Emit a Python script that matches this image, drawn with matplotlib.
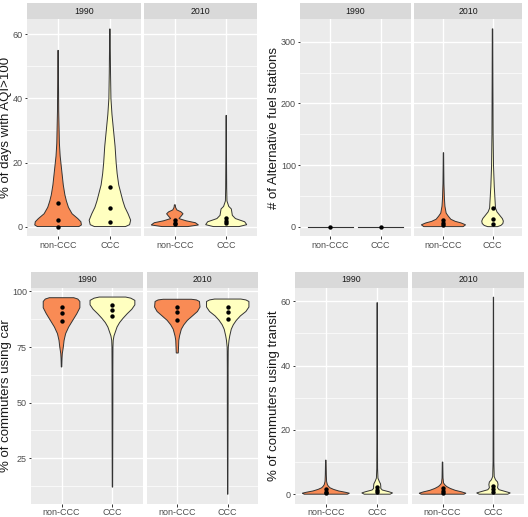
import matplotlib
matplotlib.use("Agg")
import matplotlib.pyplot as plt
import numpy as np

plt.rcParams['font.family'] = ['Liberation Sans', 'DejaVu Sans']

groups = ["non-CCC", "CCC"]
years = ["1990", "2010"]
fill_colors = ["#F98B55", "#FFFFC0"]

# violin outlines: (value, half width in category units)
aqi_90_non = [(0, .40), (.5, .45), (1.5, .44), (2.5, .38), (4, .27), (6, .20), (8, .16), (10, .13),
              (13, .10), (16, .08), (19, .06), (22, .04), (26, .025), (30, .02), (36, .012), (45, .008), (55, .005)]
aqi_90_ccc = [(0, .30), (.6, .38), (2, .40), (4, .35), (6, .29), (8, .25), (10.5, .21), (13, .17), (16.5, .14),
              (20, .12), (25, .10), (30, .07), (35, .04), (40, .02), (48, .012), (55, .008), (61.7, .004)]
aqi_10_non = [(0, .25), (.5, .46), (1.2, .40), (1.8, .22), (2.5, .08), (3.2, .12), (4, .16), (4.6, .12),
              (5.2, .04), (6, .015), (6.8, .008)]
aqi_10_ccc = [(0, .25), (.6, .40), (1.5, .36), (2.5, .18), (3.5, .12), (4.5, .11), (5.5, .10), (6.3, .05),
              (8, .015), (12, .01), (20, .007), (28, .005), (34.7, .004)]
aqi_q = [[0, 2.0, 7.3], [1.5, 5.7, 12.3], [0.7, 1.2, 2.0], [1.0, 1.8, 2.8]]

fuel_90_non = [(0, .45)]
fuel_90_ccc = [(0, .45)]
fuel_10_non = [(0, .40), (3, .45), (6, .36), (8.6, .24), (12, .15), (16.8, .10), (22, .055), (33, .03),
               (45, .02), (70, .01), (100, .006), (120, .004)]
fuel_10_ccc = [(0, .10), (2, .17), (5, .21), (9, .22), (13, .20), (18, .15), (24, .09), (30, .06),
               (44, .05), (65, .035), (98, .02), (150, .012), (240, .008), (321, .005)]
fuel_q = [[0], [0], [3, 6, 10], [4.5, 12, 31]]

car_90_non = [(66, .005), (70, .01), (72, .015), (75, .035), (78, .05), (81, .08), (84, .14), (87, .22),
              (90, .30), (92.7, .36), (95.5, .36), (96.6, .32), (97.2, .24)]
car_90_ccc = [(11.9, .004), (30, .006), (50, .008), (65, .008), (75, .01), (78, .015), (80, .03), (82, .06),
              (84, .09), (86, .14), (88, .21), (90, .29), (92, .38), (94, .44), (96, .44), (97, .36), (97.5, .26)]
car_10_non = [(72.3, .02), (75, .025), (78, .03), (80, .045), (83, .08), (85, .13), (87, .20), (89, .30),
              (91, .40), (93, .45), (95.5, .44), (96.2, .38), (96.5, .28)]
car_10_ccc = [(8.7, .004), (30, .006), (50, .008), (65, .008), (73, .01), (75, .012), (78, .025), (80, .04),
              (83, .07), (85, .11), (87, .17), (89, .25), (91, .36), (93, .42), (95.5, .42), (96.2, .36), (96.6, .26)]
car_q = [[86.7, 90.2, 93.0], [88.8, 91.5, 94.0], [87.3, 90.9, 93.1], [87.6, 90.8, 93.0]]

tr_90_non = [(0, .42), (.3, .46), (.6, .38), (1.0, .25), (1.5, .15), (2.0, .08), (2.5, .05), (3, .03),
             (4, .015), (6, .01), (10.6, .005)]
tr_90_ccc = [(0, .25), (.4, .30), (.8, .22), (1.3, .10), (1.8, .07), (2.5, .07), (3.2, .065), (4, .04),
             (5, .015), (8, .008), (20, .005), (40, .004), (59.6, .003)]
tr_10_non = [(0, .42), (.3, .46), (.7, .38), (1.2, .25), (1.8, .15), (2.4, .08), (3.0, .04), (3.5, .02),
             (5, .01), (10, .005)]
tr_10_ccc = [(0, .28), (.4, .33), (.9, .22), (1.4, .11), (2, .08), (3, .09), (3.8, .08), (4.5, .04),
             (5.5, .015), (10, .008), (30, .005), (61.3, .003)]
tr_q = [[0.3, 0.8, 1.5], [0.7, 1.3, 2.2], [0.4, 1.0, 1.8], [0.8, 1.5, 2.5]]

panels = [
    dict(label="% of days with AQI>100", violins=[aqi_90_non, aqi_90_ccc, aqi_10_non, aqi_10_ccc], q=aqi_q,
         ylim=(-3.1, 64.8), major=[0, 20, 40, 60], minor=[10, 30, 50],
         x=[(27, 141), (144, 257)], strip=(3, 19), plot=(19, 236.5), lab_x=6),
    dict(label="# of Alternative fuel stations", violins=[fuel_90_non, fuel_90_ccc, fuel_10_non, fuel_10_ccc], q=fuel_q,
         ylim=(-16, 337), major=[0, 100, 200, 300], minor=[50, 150, 250],
         x=[(300, 411), (414, 522)], strip=(3, 19), plot=(19, 236.5), lab_x=274),
    dict(label="% of commuters using car", violins=[car_90_non, car_90_ccc, car_10_non, car_10_ccc], q=car_q,
         ylim=(4.3, 101.8), major=[25, 50, 75, 100], minor=[12.5, 37.5, 62.5, 87.5],
         x=[(31, 143), (147, 258)], strip=(271.5, 287.5), plot=(287.5, 504), lab_x=6),
    dict(label="% of commuters using transit", violins=[tr_90_non, tr_90_ccc, tr_10_non, tr_10_ccc], q=tr_q,
         ylim=(-3.05, 64.3), major=[0, 20, 40, 60], minor=[10, 30, 50],
         x=[(295, 408), (412, 524)], strip=(271.5, 287.5), plot=(287.5, 504), lab_x=274),
]

W, H = 528, 517
fig = plt.figure(figsize=(W / 100, H / 100), dpi=100)


def box(x0, x1, y0, y1):
    return [x0 / W, 1 - y1 / H, (x1 - x0) / W, (y1 - y0) / H]


def draw_violin(ax, xc, prof, color):
    y = np.array([p[0] for p in prof], dtype=float)
    w = np.array([p[1] for p in prof], dtype=float)
    if len(y) == 1:
        ax.plot([xc - w[0], xc + w[0]], [y[0], y[0]], color="#333333", lw=0.8, zorder=3)
        return
    xs = np.concatenate([xc - w, (xc + w)[::-1]])
    ys = np.concatenate([y, y[::-1]])
    ax.fill(xs, ys, facecolor=color, edgecolor="#333333", lw=0.7, zorder=3)


for p in panels:
    for k, (x0, x1) in enumerate(p["x"]):
        sa = fig.add_axes(box(x0, x1, *p["strip"]))
        sa.set_facecolor("#D9D9D9")
        sa.set_xticks([]); sa.set_yticks([])
        for s in sa.spines.values():
            s.set_visible(False)
        sa.text(0.5, 0.5, years[k], ha="center", va="center", fontsize=6.3, color="#1A1A1A",
                transform=sa.transAxes)

        ax = fig.add_axes(box(x0, x1, *p["plot"]))
        ax.set_facecolor("#EBEBEB")
        for s in ax.spines.values():
            s.set_visible(False)
        ax.set_xlim(0.4, 2.6)
        ax.set_ylim(*p["ylim"])
        ax.set_xticks([1, 2])
        ax.set_yticks(p["major"])
        ax.set_yticks(p["minor"], minor=True)
        ax.grid(True, which="major", color="white", lw=1.0)
        ax.grid(True, which="minor", axis="y", color="white", lw=0.5)
        ax.set_axisbelow(True)
        ax.tick_params(axis="both", which="major", length=1.8, width=0.7, color="#333333",
                       labelsize=6.5, labelcolor="#4D4D4D", pad=1.2)
        ax.tick_params(which="minor", length=0)
        ax.set_xticklabels(groups)
        if k == 0:
            ax.set_yticklabels([str(v) for v in p["major"]])
        else:
            ax.tick_params(axis="y", which="major", length=0, labelleft=False)
        for g in range(2):
            draw_violin(ax, g + 1, p["violins"][2 * k + g], fill_colors[g])
            qs = p["q"][2 * k + g]
            ax.scatter([g + 1] * len(qs), qs, s=10, color="black", zorder=4, lw=0)

    yc = (p["plot"][0] + p["plot"][1]) / 2
    fig.text(p["lab_x"] / W, 1 - yc / H, p["label"], rotation=90, ha="center", va="center",
             fontsize=9.5, color="#1A1A1A")

fig.savefig("out.png", dpi=100)
